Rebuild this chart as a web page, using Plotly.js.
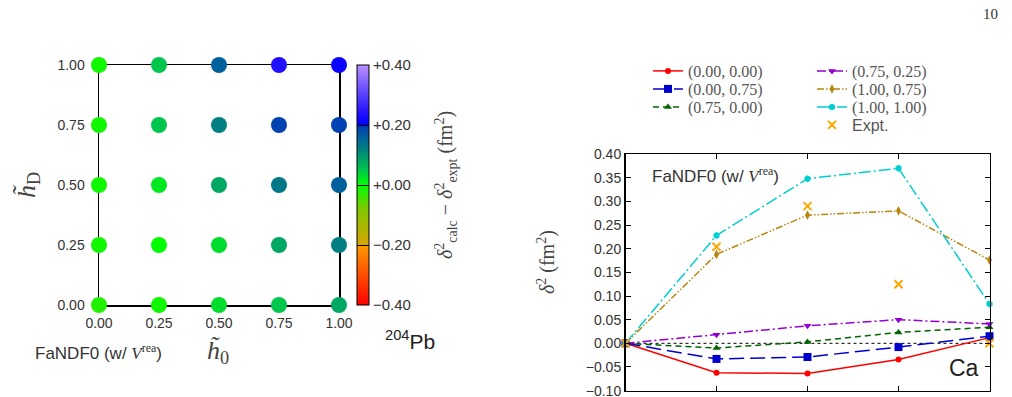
<!DOCTYPE html>
<html>
<head>
<meta charset="utf-8">
<script src="https://cdn.plot.ly/plotly-3.0.1.min.js"></script>
<style>
  html, body { margin: 0; padding: 0; background: #fff; }
  #chart { width: 1012px; height: 397px; }
</style>
</head>
<body>
<div id="chart"></div>
<script>
// ---- Left panel: 204Pb deviation map over (h0, hD) ----
const h0Values = [0.00, 0.25, 0.50, 0.75, 1.00];
const hDValues = [0.00, 0.25, 0.50, 0.75, 1.00];
// deviation delta^2_calc - delta^2_expt (fm^2), one row per hD
const devRow_hD000 = [-0.02, -0.01, 0.03, 0.05, 0.08];
const devRow_hD025 = [-0.01, 0.00, 0.03, 0.08, 0.12];
const devRow_hD050 = [-0.01, 0.02, 0.08, 0.13, 0.16];
const devRow_hD075 = [-0.01, 0.05, 0.12, 0.19, 0.19];
const devRow_hD100 = [-0.01, 0.05, 0.16, 0.24, 0.21];
const devRows = [devRow_hD000, devRow_hD025, devRow_hD050, devRow_hD075, devRow_hD100];
const gridTicks = [0.00, 0.25, 0.50, 0.75, 1.00];
const cbarTicks = [-0.40, -0.20, 0.00, 0.20, 0.40];
const cbarTickText = ['−0.40', '−0.20', '+0.00', '+0.20', '+0.40'];

// ---- Right panel: Ca isotope chain ----
const caIndex = [0, 1, 2, 3, 4];
const ca_000_000 = [0.000, -0.062, -0.064, -0.034, 0.012];
const ca_000_075 = [0.000, -0.033, -0.029, -0.008, 0.015];
const ca_075_000 = [0.000, -0.010, 0.003, 0.023, 0.034];
const ca_075_025 = [0.000, 0.018, 0.037, 0.050, 0.041];
const ca_100_075 = [0.000, 0.188, 0.271, 0.280, 0.176];
const ca_100_100 = [0.000, 0.228, 0.348, 0.370, 0.083];
const ca_expt    = [0.000, 0.204, 0.290, 0.125, 0.000];
const caYTicks = [-0.10, -0.05, 0.00, 0.05, 0.10, 0.15, 0.20, 0.25, 0.30, 0.35, 0.40];

const W = 1012, H = 397;
const px = x => x / W;
const py = y => (H - y) / H;

const SANS = 'Liberation Sans, Arial, sans-serif';
const SERIF = 'Liberation Serif, DejaVu Serif, serif';

// flatten the grid for the scatter
const gx = [], gy = [], gc = [];
hDValues.forEach((hd, j) => {
  h0Values.forEach((h0, i) => {
    gx.push(h0); gy.push(hd); gc.push(devRows[j][i]);
  });
});

const colorscale = [
  [0.00, '#ff0000'],
  [0.25, '#ff9c00'],
  [0.25, '#d8a400'],
  [0.40, '#80c800'],
  [0.50, '#00ff00'],
  [0.56, '#00c84c'],
  [0.65, '#008080'],
  [0.70, '#00609c'],
  [0.75, '#0038b8'],
  [0.75, '#0000ff'],
  [0.80, '#2010ff'],
  [1.00, '#b890ff']
];

const traces = [];

traces.push({
  type: 'scatter', mode: 'markers',
  x: gx, y: gy, xaxis: 'x', yaxis: 'y',
  cliponaxis: false, showlegend: false, hoverinfo: 'skip',
  marker: {
    size: 16, color: gc, cmin: -0.4, cmax: 0.4, colorscale: colorscale,
    line: { width: 0 },
    showscale: true,
    colorbar: {
      x: px(357), xanchor: 'left', xref: 'paper',
      y: py(185), yanchor: 'middle',
      thickness: 12, thicknessmode: 'pixels',
      len: 240, lenmode: 'pixels',
      outlinecolor: '#000', outlinewidth: 1,
      ticks: 'inside', ticklen: 12, tickcolor: '#000', tickwidth: 1,
      tickmode: 'array', tickvals: cbarTicks, ticktext: cbarTickText,
      tickfont: { family: SANS, size: 15, color: '#333' },
      xpad: 0, ypad: 0, borderwidth: 0
    }
  }
});

// each legend row gets its own legend box so rows sit at fixed spacing
const caSeries = [
  { name: '(0.00, 0.00)', y: ca_000_000, color: '#ff0000', dash: 'solid', symbol: 'circle', size: 6, legend: 'legend' },
  { name: '(0.00, 0.75)', y: ca_000_075, color: '#0000cd', dash: '15px,6px', symbol: 'square', size: 8, legend: 'legend2' },
  { name: '(0.75, 0.00)', y: ca_075_000, color: '#006400', dash: '6px,4px', symbol: 'triangle-up', size: 7, legend: 'legend3' },
  { name: '(0.75, 0.25)', y: ca_075_025, color: '#9400d3', dash: '9px,3px,2px,3px', symbol: 'triangle-down', size: 7, legend: 'legend4' },
  { name: '(1.00, 0.75)', y: ca_100_075, color: '#b8860b', dash: '7px,2px,1.5px,2px,1.5px,2px', symbol: 'diamond-tall', size: 7, legend: 'legend5' },
  { name: '(1.00, 1.00)', y: ca_100_100, color: '#00ced1', dash: '12px,3px,2px,3px', symbol: 'hexagon', size: 7, legend: 'legend6' }
];

caSeries.forEach(s => {
  traces.push({
    type: 'scatter', mode: 'lines+markers', name: s.name,
    x: caIndex, y: s.y, xaxis: 'x2', yaxis: 'y2', legend: s.legend,
    cliponaxis: false, hoverinfo: 'skip',
    line: { color: s.color, width: 1.5, dash: s.dash },
    marker: { color: s.color, symbol: s.symbol, size: s.size, line: { width: 0 } }
  });
});

traces.push({
  type: 'scatter', mode: 'markers', name: 'Expt.',
  x: caIndex, y: ca_expt, xaxis: 'x2', yaxis: 'y2', legend: 'legend7',
  cliponaxis: false, hoverinfo: 'skip',
  marker: { symbol: 'x-thin-open', size: 8, color: '#ffa500', line: { color: '#ffa500', width: 2 } }
});

const axLeft = {
  showline: true, mirror: true, linecolor: '#000', linewidth: 1.5,
  showgrid: false, zeroline: false, ticks: '', layer: 'below traces',
  tickfont: { family: SANS, size: 14, color: '#333' }
};

const legendColX = [648, 812];
const legendRowY = [71, 89, 107, 125];
function legendBox(col, row, family) {
  return {
    x: px(legendColX[col]), y: py(legendRowY[row]), xanchor: 'left', yanchor: 'middle',
    bgcolor: 'rgba(0,0,0,0)', borderwidth: 0,
    font: { family: family || SERIF, size: 16, color: '#555' },
    tracegroupgap: 0, itemwidth: 30
  };
}

const ann = (text, x, y, family, size, color, extra) => Object.assign({
  text: text, xref: 'paper', yref: 'paper', x: px(x), y: py(y),
  xanchor: 'center', yanchor: 'middle',
  showarrow: false, font: { family: family, size: size, color: color }
}, extra || {});

const fandf = 'FaNDF0 (w/ <span style="font-family:Liberation Serif"><i>V</i><sup>rea</sup></span>)';

const layout = {
  width: W, height: H,
  margin: { l: 0, r: 0, t: 0, b: 0 },
  paper_bgcolor: '#fff', plot_bgcolor: 'rgba(0,0,0,0)',
  showlegend: true,
  xaxis: Object.assign({}, axLeft, {
    domain: [px(99), px(339)], range: [0, 1], anchor: 'y',
    tickvals: gridTicks, tickformat: '.2f', ticklabelstandoff: 5
  }),
  yaxis: Object.assign({}, axLeft, {
    domain: [py(305), py(65)], range: [0, 1], anchor: 'x',
    tickvals: gridTicks, tickformat: '.2f', ticklabelstandoff: 10
  }),
  xaxis2: {
    domain: [px(625.5), px(989.5)], range: [0, 4], anchor: 'y2',
    showline: true, mirror: 'ticks', linecolor: '#000', linewidth: 1.5,
    showgrid: false, zeroline: false, ticks: 'inside', ticklen: 5, tickcolor: '#000',
    dtick: 1, tick0: 0, showticklabels: false
  },
  yaxis2: {
    domain: [py(390.7), py(154)], range: [-0.1002, 0.4002], anchor: 'x2',
    showline: true, mirror: 'ticks', linecolor: '#000', linewidth: 1.5,
    showgrid: false, zeroline: false, ticks: 'inside', ticklen: 5, tickcolor: '#000',
    tickvals: caYTicks, tickformat: '.2f', ticklabeloverflow: 'allow',
    tickfont: { family: SANS, size: 14, color: '#333' }
  },
  legend:  legendBox(0, 0),
  legend2: legendBox(0, 1),
  legend3: legendBox(0, 2),
  legend4: legendBox(1, 0),
  legend5: legendBox(1, 1),
  legend6: legendBox(1, 2),
  legend7: legendBox(1, 3, SANS),
  shapes: [
    { type: 'line', xref: 'x2 domain', yref: 'y2', x0: 0, x1: 1, y0: 0, y1: 0,
      line: { color: '#000', width: 1, dash: 'dot' }, layer: 'below' }
  ],
  annotations: [
    ann('<i>h̃</i><sub>D</sub>', 28, 185, SERIF, 26, '#444', { textangle: -90 }),
    ann('<i>h̃</i><sub>0</sub>', 218, 352, SERIF, 26, '#444'),
    ann(fandf, 33, 352, SANS, 17, '#333', { xanchor: 'left' }),
    ann('<sup>204</sup>Pb', 410, 340, SANS, 21, '#222'),
    ann('<i>δ</i><sup>2</sup><sub>calc</sub> − <i>δ</i><sup>2</sup><sub>expt</sub> (fm<sup>2</sup>)',
      446, 185, SERIF, 20, '#444', { textangle: -90 }),
    ann('<i>δ</i><sup>2</sup> (fm<sup>2</sup>)', 546, 262, SERIF, 20, '#444', { textangle: -90 }),
    ann(fandf, 650, 175, SANS, 17, '#333', { xanchor: 'left' }),
    ann('Ca', 964, 368, SANS, 23, '#222'),
    ann('10', 990, 14, SERIF, 15, '#333'),
    ann('<i>δ</i><sup>2</sup> of <sup>204</sup>Pb', 255, 409, SERIF, 16, '#444', { xanchor: 'left' })
  ]
};

Plotly.newPlot('chart', traces, layout, { staticPlot: true, displayModeBar: false });
</script>
</body>
</html>
